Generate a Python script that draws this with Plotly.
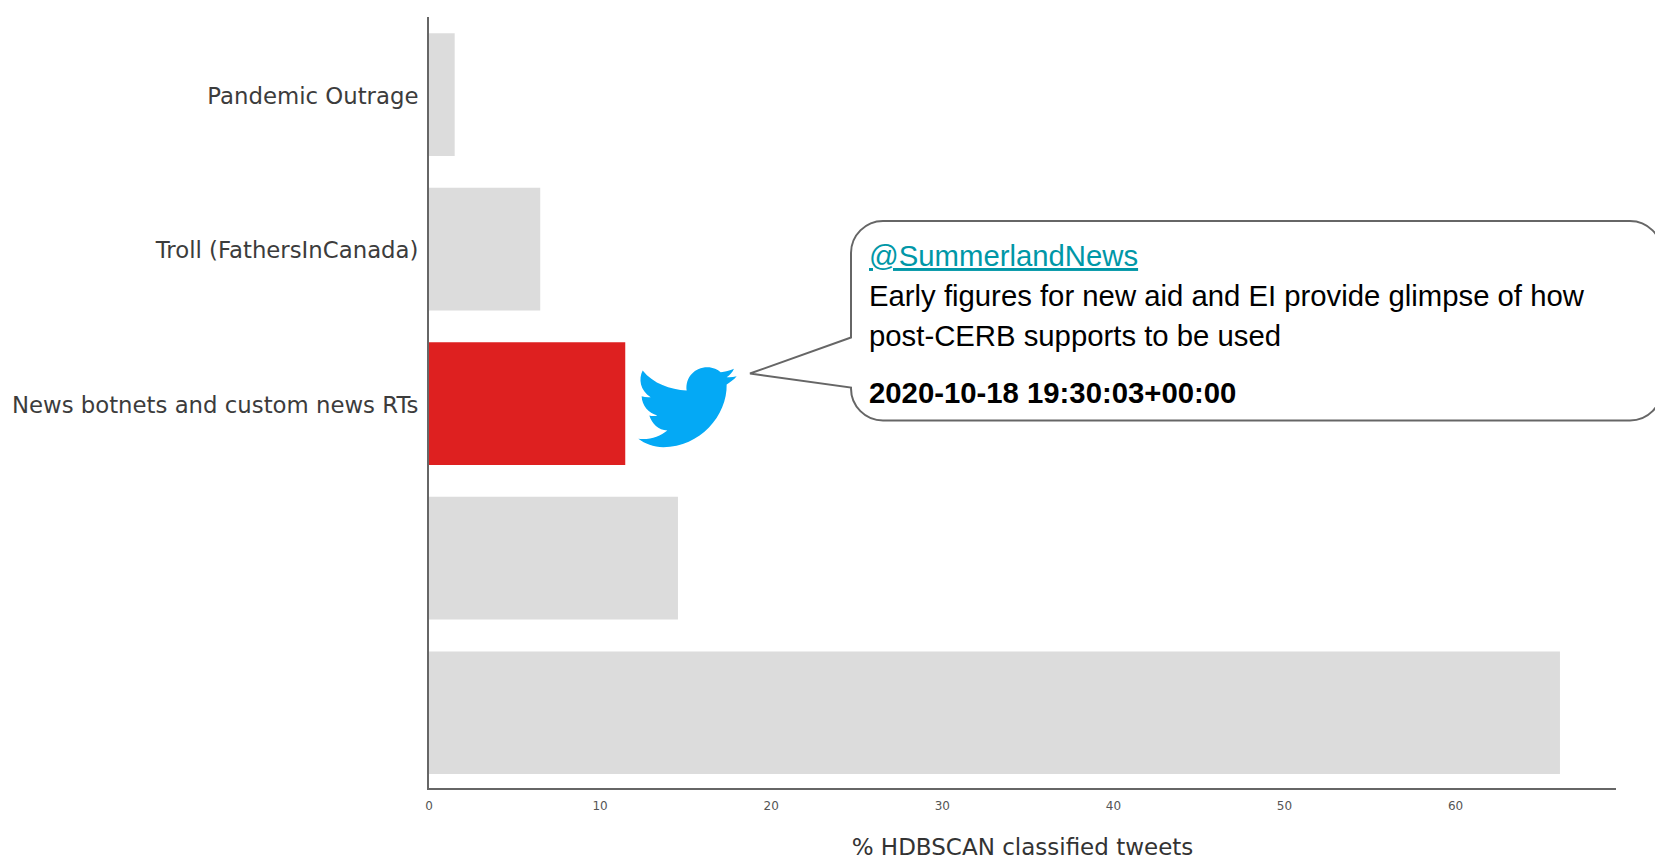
import plotly.graph_objects as go

# Data (bottom to top)
categories = ["cluster_a", "cluster_b", "News botnets and custom news RTs",
              "Troll (FathersInCanada)", "Pandemic Outrage"]
tick_labels = ["", "", "News botnets and custom news RTs",
               "Troll (FathersInCanada)", "Pandemic Outrage"]
values = [66.1, 14.55, 11.47, 6.5, 1.5]
bar_colors = ["#dcdcdc", "#dcdcdc", "#de2020", "#dcdcdc", "#dcdcdc"]
x_ticks = [0, 10, 20, 30, 40, 50, 60]
x_title = "% HDBSCAN classified tweets"
tweet_user = "@SummerlandNews"
tweet_lines = ["Early figures for new aid and EI provide glimpse of how",
               "post-CERB supports to be used"]
tweet_date = "2020-10-18 19:30:03+00:00"

W, H = 1655, 860
L, R, T, B = 429.0, 1616.0, 17.0, 788.0


def px(x):
    return (x - L) / (R - L)


def py(y):
    return (B - y) / (B - T)


def build_path(cmds):
    out = []
    for c in cmds:
        op, pts = c[0], c[1:]
        out.append(op + " ".join(f"{px(a):.5f},{py(b):.5f}" for a, b in pts))
    return " ".join(out) + " Z"


# Speech bubble outline
bl, br, bt, bb, r = 851, 1662, 221, 420.5, 32
bubble = [
    ("M", (bl + r, bt)), ("L", (br - r, bt)),
    ("C", (br - r * 0.45, bt), (br, bt + r * 0.45), (br, bt + r)),
    ("L", (br, bb - r)),
    ("C", (br, bb - r * 0.45), (br - r * 0.45, bb), (br - r, bb)),
    ("L", (bl + r, bb)),
    ("C", (bl + r * 0.45, bb), (bl, bb - r * 0.45), (bl, bb - r)),
    ("L", (bl, 387.5)), ("L", (750, 373.5)), ("L", (bl, 337.5)),
    ("L", (bl, bt + r)),
    ("C", (bl, bt + r * 0.45), (bl + r * 0.45, bt), (bl + r, bt)),
]


# Twitter bird outline
def b(x, y):
    return (630 + x / 3, 355.5 + y / 3)


bird = [
    ("M", b(38, 45)),
    ("C", b(70, 85), b(120, 102), b(170, 105)),
    ("C", b(165, 65), b(195, 35), b(232, 35)),
    ("C", b(250, 35), b(263, 42), b(272, 50)),
    ("C", b(285, 49), b(300, 45), b(312, 40)),
    ("C", b(307, 52), b(298, 60), b(290, 65)),
    ("C", b(300, 66), b(310, 65), b(320, 62)),
    ("C", b(312, 72), b(300, 80), b(290, 87)),
    ("C", b(292, 180), b(210, 275), b(100, 275)),
    ("C", b(70, 275), b(45, 265), b(25, 250)),
    ("C", b(60, 254), b(90, 243), b(112, 225)),
    ("C", b(85, 224), b(66, 205), b(58, 180)),
    ("C", b(65, 182), b(75, 182), b(82, 180)),
    ("C", b(55, 172), b(36, 150), b(35, 122)),
    ("C", b(43, 125), b(52, 126), b(62, 125)),
    ("C", b(30, 105), b(25, 70), b(38, 45)),
]

fig = go.Figure(go.Bar(
    y=list(range(len(categories))),
    x=values,
    orientation="h",
    width=0.794,
    marker=dict(color=bar_colors, line_width=0),
    customdata=categories,
))

AXIS = "#666666"
fig.update_layout(
    width=W, height=H, autosize=False,
    margin=dict(l=L, r=W - R, t=T, b=H - B, pad=0),
    paper_bgcolor="white", plot_bgcolor="white",
    showlegend=False,
    font=dict(family="DejaVu Sans", color="#333333"),
    xaxis=dict(
        automargin=False,
        range=[0, (R - L) / 17.11],
        tickvals=x_ticks,
        ticks="outside", ticklen=6, tickcolor="rgba(0,0,0,0)",
        tickfont=dict(family="DejaVu Sans", size=12, color="#555555"),
        showgrid=False, zeroline=False,
        showline=True, linecolor=AXIS, linewidth=2,
        title=dict(text=x_title, standoff=31,
                   font=dict(family="DejaVu Sans", size=23, color="#333333")),
    ),
    yaxis=dict(
        automargin=False,
        range=[-0.487, 4.502],
        tickvals=list(range(len(categories))),
        ticktext=tick_labels,
        ticks="outside", ticklen=4, tickcolor="rgba(0,0,0,0)",
        ticklabelshift=1,
        tickfont=dict(family="DejaVu Sans", size=22.8, color="#3c3c3c"),
        showgrid=False, zeroline=False,
        showline=True, linecolor=AXIS, linewidth=2,
    ),
    shapes=[
        dict(type="path", xref="paper", yref="paper", path=build_path(bubble),
             fillcolor="white", line=dict(color="#666666", width=2)),
        dict(type="path", xref="paper", yref="paper", path=build_path(bird),
             fillcolor="#04a9f5", line=dict(width=0)),
    ],
)

TXT = 867.0
line_ys = [255.5, 295.5, 335.5]
texts = [f"<u>{tweet_user}</u>"] + tweet_lines
colors = ["#0097a7", "#000000", "#000000"]
anns = []
for t, y, c in zip(texts, line_ys, colors):
    anns.append(dict(text=t, x=px(TXT), y=py(y), xref="paper", yref="paper",
                     xanchor="left", yanchor="middle", showarrow=False, align="left",
                     font=dict(family="Liberation Sans", size=29.3, color=c)))
anns.append(dict(text=f"<b>{tweet_date}</b>", x=px(TXT), y=py(392.5), xref="paper", yref="paper",
                 xanchor="left", yanchor="middle", showarrow=False,
                 font=dict(family="Liberation Sans", size=29.3, color="#000000")))
fig.update_layout(annotations=anns)

fig.write_html("out.html", config=dict(displayModeBar=False),
               post_script="document.body.style.margin='0';")
